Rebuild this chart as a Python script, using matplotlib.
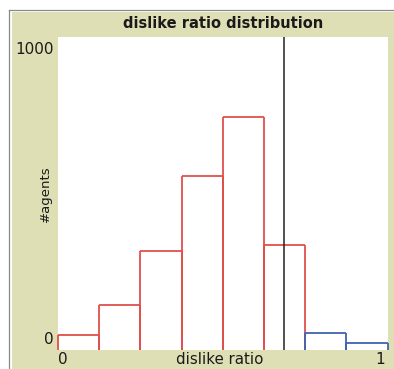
import matplotlib.pyplot as plt
from matplotlib.patches import Rectangle
from matplotlib.lines import Line2D

# histogram of dislike ratio, 8 bins of width 0.125
bin_left = [0.0, 0.125, 0.25, 0.375, 0.5, 0.625, 0.75, 0.875]
counts = [49, 143, 317, 556, 745, 335, 53, 21]
pen = ['red', 'red', 'red', 'red', 'red', 'red', 'blue', 'blue']
bin_width = 0.125
threshold = 0.686

W, H = 394, 369
fig = plt.figure(figsize=(W / 100, H / 100), dpi=100, facecolor='white')

# outer frame and beige panel
fig.patches.append(Rectangle((11.5 / W, 0), 1 - 11.5 / W, (H - 11.5) / H,
                             transform=fig.transFigure, facecolor='#dfdfb6',
                             edgecolor='none', zorder=-1))
fig.lines.append(Line2D([8.5 / W, 8.5 / W], [0, (H - 9.5) / H],
                        transform=fig.transFigure, color='#8a8a8a', lw=0.9))
fig.lines.append(Line2D([8.5 / W, 1], [(H - 9.5) / H, (H - 9.5) / H],
                        transform=fig.transFigure, color='#8a8a8a', lw=0.9))

# plot area
x0, x1, y0, y1 = 58, 387.5, 350, 37
ax = fig.add_axes([x0 / W, (H - y0) / H, (x1 - x0) / W, (y0 - y1) / H])
ax.set_zorder(2)
ax.set_facecolor('white')
ax.set_xlim(0, 1)
ax.set_ylim(0, 1000)
for s in ax.spines.values():
    s.set_visible(False)
ax.set_xticks([])
ax.set_yticks([])

# netlogo-style bars: sides and top, no bottom edge
colors = {'red': '#e0504b', 'blue': '#3f63b0'}
for xl, c, p in zip(bin_left, counts, pen):
    col = colors[p]
    ax.vlines([xl, xl + bin_width], 0, c, color=col, lw=1.3, clip_on=False)
    ax.hlines(c, xl, xl + bin_width, color=col, lw=1.3, clip_on=False)
ax.axvline(threshold, color='#222222', lw=1.1)

def px(x, y):
    return x / W, 1 - y / H

fig.text(*px(223, 24), 'dislike ratio distribution', ha='center', va='center',
         fontsize=10.5, fontweight='bold', color='#1a1a1a')
fig.text(*px(54, 49), '1000', ha='right', va='center', fontsize=11, color='#1a1a1a')
fig.text(*px(54, 340), '0', ha='right', va='center', fontsize=11, color='#1a1a1a')
fig.text(*px(63, 360), '0', ha='center', va='center', fontsize=11, color='#1a1a1a')
fig.text(*px(380, 360), '1', ha='center', va='center', fontsize=11, color='#1a1a1a')
fig.text(*px(219.5, 360), 'dislike ratio', ha='center', va='center', fontsize=10.8, color='#1a1a1a')
fig.text(*px(45, 194), '#agents', ha='center', va='center', rotation=90,
         fontsize=9.5, color='#1a1a1a')

fig.savefig('out.png', dpi=100, facecolor='white')
